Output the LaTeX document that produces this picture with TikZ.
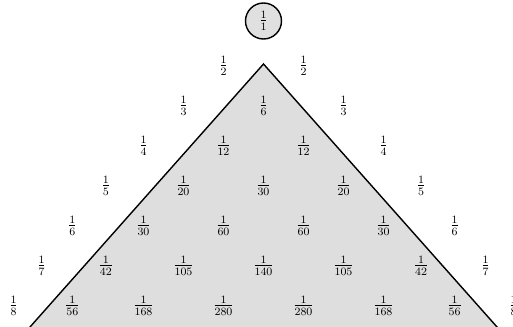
\documentclass[tikz,border=0pt]{standalone}
\usepackage{amsmath}
\usepackage{tikz}

\begin{document}
\begin{tikzpicture}[entry/.style={inner sep=1pt, font=\large}, top/.style={circle, draw, line width=1pt, fill=black!12, minimum size=0.9cm, inner sep=0pt, font=\large}]
			\useasboundingbox (-6.5875,0) rectangle (6.2375,-8.175);
			\clip (-6.5875,0) rectangle (6.2375,-8.175);

			% shaded wedge below the apex
			\coordinate (apex) at (0,-1.6);
			\coordinate (bl) at (-6.57,-9);
			\coordinate (br) at (6.57,-9);
			\fill[black!13] (apex) -- (bl) -- (br) -- cycle;
			\draw[line width=1pt] (bl) -- (apex) -- (br);

			\node[top] (r1-1) at (0,-0.525) {$\frac{1}{1}$};
			\foreach \x/\d [count=\i] in {-1/2, 1/2}
				\node[entry] (r2-\i) at (\x,-1.65) {$\frac{1}{\d}$};
			\foreach \x/\d [count=\i] in {-2/3, 0/6, 2/3}
				\node[entry] (r3-\i) at (\x,-2.65) {$\frac{1}{\d}$};
			\foreach \x/\d [count=\i] in {-3/4, -1/12, 1/12, 3/4}
				\node[entry] (r4-\i) at (\x,-3.65) {$\frac{1}{\d}$};
			\foreach \x/\d [count=\i] in {-3.94/5, -2/20, 0/30, 2/20, 3.94/5}
				\node[entry] (r5-\i) at (\x,-4.65) {$\frac{1}{\d}$};
			\foreach \x/\d [count=\i] in {-4.78/6, -3/30, -1/60, 1/60, 3/30, 4.78/6}
				\node[entry] (r6-\i) at (\x,-5.65) {$\frac{1}{\d}$};
			\foreach \x/\d [count=\i] in {-5.55/7, -3.94/42, -2/105, 0/140, 2/105, 3.94/42, 5.55/7}
				\node[entry] (r7-\i) at (\x,-6.65) {$\frac{1}{\d}$};
			\foreach \x/\d [count=\i] in {-6.25/8, -4.78/56, -3/168, -1/280, 1/280, 3/168, 4.78/56, 6.25/8}
				\node[entry] (r8-\i) at (\x,-7.65) {$\frac{1}{\d}$};
		\end{tikzpicture}
\end{document}
